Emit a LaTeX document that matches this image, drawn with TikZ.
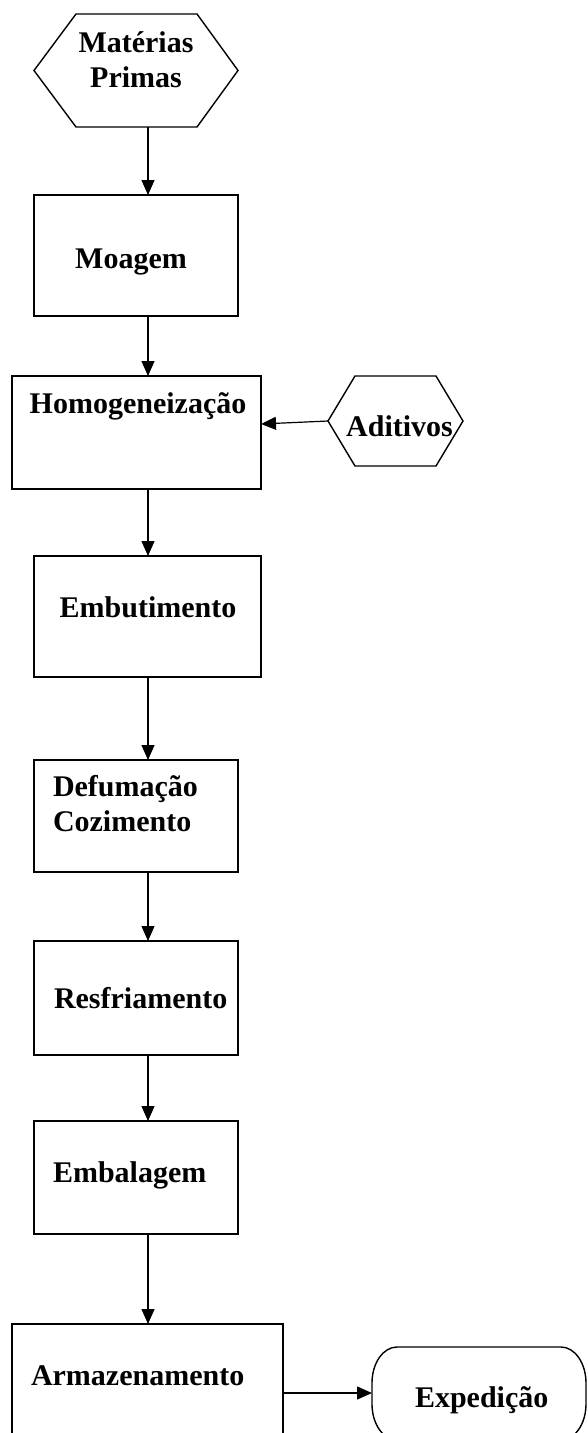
\documentclass[tikz,border=0pt]{standalone}
\usepackage{fontspec}
\setmainfont{Liberation Serif}
\usetikzlibrary{arrows.meta,calc}
\begin{document}
\begin{tikzpicture}[x=1pt,y=-1pt,
  box/.style={draw, line width=2pt, inner sep=0pt, outer sep=0pt, anchor=north west},
  hexline/.style={line width=1.4pt, line join=miter},
  arr/.style={line width=1.2pt, -{Triangle[length=15pt,width=13pt]}},
  txt/.style={font=\fontsize{30}{35}\selectfont\bfseries, inner sep=0pt, outer sep=0pt}]
\fill[white] (0,0) rectangle (587,1433);
\useasboundingbox (0,0) rectangle (587,1433);
\clip (0,0) rectangle (587,1433);

\coordinate (axis) at (148,0);

% Materias Primas (hexagon)
\draw[hexline] (34,70.5) -- (76,14) -- (197,14) -- (238,70.5) -- (197,127) -- (76,127) -- cycle;
\node[txt, anchor=base] (mp) at (136,52) {\begin{tabular}[t]{@{}c@{}}Matérias\\Primas\end{tabular}};
\coordinate (mpS) at (148,127);

% Moagem
\node[box, minimum width=204pt, minimum height=121pt] (moagem) at (34,195) {};
\node[txt, anchor=base] (moagemT) at (131,268) {Moagem};
\draw[arr] (mpS) -- (axis |- moagem.north);

% Homogeneizacao
\node[box, minimum width=249pt, minimum height=113pt] (homog) at (12,376) {};
\node[txt, anchor=base] (homogT) at (138,413) {Homogeneização};
\draw[arr] (axis |- moagem.south) -- (axis |- homog.north);

% Aditivos (hexagon)
\draw[hexline] (328,421) -- (355,376) -- (436,376) -- (463,421) -- (436,466) -- (355,466) -- cycle;
\node[txt, anchor=base] (aditT) at (399.5,436) {Aditivos};
\coordinate (adL) at (328,421);
\draw[arr] (adL) -- ($(homog.north east)+(0,48)$);

% Embutimento
\node[box, minimum width=227pt, minimum height=121pt] (embut) at (34,556) {};
\node[txt, anchor=base] (embutT) at (148,617) {Embutimento};
\draw[arr] (axis |- homog.south) -- (axis |- embut.north);

% Defumacao / Cozimento
\node[box, minimum width=204pt, minimum height=112pt] (defum) at (34,760) {};
\node[txt, anchor=base west] (defumT) at (53,796) {\begin{tabular}[t]{@{}l@{}}Defumação\\Cozimento\end{tabular}};
\draw[arr] (axis |- embut.south) -- (axis |- defum.north);

% Resfriamento
\node[box, minimum width=204pt, minimum height=114pt] (resfr) at (34,941) {};
\node[txt, anchor=base west] (resfrT) at (54,1008) {Resfriamento};
\draw[arr] (axis |- defum.south) -- (axis |- resfr.north);

% Embalagem
\node[box, minimum width=204pt, minimum height=113pt] (embal) at (34,1121) {};
\node[txt, anchor=base west] (embalT) at (53,1182) {Embalagem};
\draw[arr] (axis |- resfr.south) -- (axis |- embal.north);

% Armazenamento
\node[box, minimum width=271pt, minimum height=120pt] (armaz) at (12,1324) {};
\node[txt, anchor=base west] (armazT) at (31,1385) {Armazenamento};
\draw[arr] (axis |- embal.south) -- (axis |- armaz.north);

% Expedicao (terminator with elliptical corners)
\node[inner sep=0pt, outer sep=0pt, anchor=north west,
      minimum width=214pt, minimum height=93pt] (exped) at (372,1347) {};
\draw[line width=1.4pt]
  (397,1347) .. controls (383.2,1347) and (372,1363.1) .. (372,1383)
  -- (372,1404)
  .. controls (372,1423.9) and (383.2,1440) .. (397,1440)
  -- (561,1440)
  .. controls (574.8,1440) and (586,1423.9) .. (586,1404)
  -- (586,1383)
  .. controls (586,1363.1) and (574.8,1347) .. (561,1347)
  -- cycle;
\node[txt, anchor=base west] (expedT) at (415,1407) {Expedição};
\coordinate (armOut) at ($(armaz.north east)+(0,69)$);
\draw[arr] (armOut) -- (armOut -| exped.west);
\end{tikzpicture}
\end{document}
